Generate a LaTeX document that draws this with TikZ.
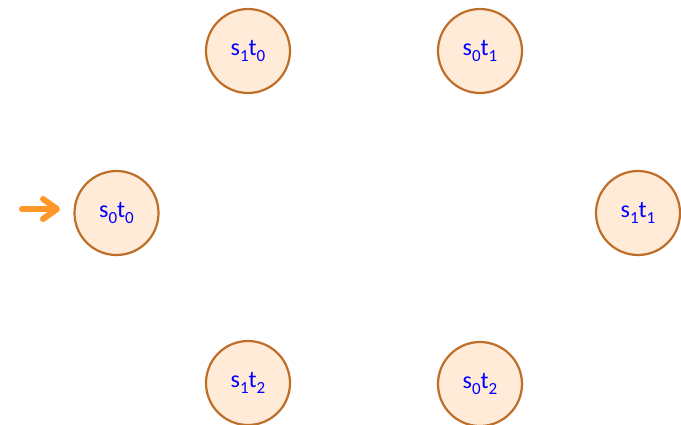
\documentclass[tikz,border=0pt]{standalone}
\usepackage{fontspec}
\setmainfont{Carlito}
\usetikzlibrary{arrows.meta}
\definecolor{stfill}{RGB}{255,235,216}
\definecolor{stdraw}{RGB}{190,110,40}
\definecolor{arrorange}{RGB}{255,150,40}
\newcommand\stsub[1]{\raisebox{-0.22em}{\fontsize{17}{17}\selectfont #1}}
\newcommand\stlabel[2]{s\stsub{#1}t\stsub{#2}}
\begin{document}
\begin{tikzpicture}[x=1pt,y=-1pt,
  state/.style={circle,draw=stdraw,fill=stfill,line width=2.2pt,minimum size=84pt,inner sep=0pt,
    text=blue,font=\fontsize{24}{24}\selectfont},
  initarrow/.style={draw=arrorange,line width=6pt,line cap=round,-{Straight Barb[length=14pt,width=20pt,line cap=round,line join=round]}}]
\useasboundingbox (0,0) rectangle (681,424);
\node[state] (s1t0) at (248,51) {\stlabel{1}{0}};
\node[state] (s0t1) at (480,51) {\stlabel{0}{1}};
\node[state] (s0t0) at (116.5,213) {\stlabel{0}{0}};
\node[state] (s1t1) at (638,213) {\stlabel{1}{1}};
\node[state] (s1t2) at (248,383) {\stlabel{1}{2}};
\node[state] (s0t2) at (480,384) {\stlabel{0}{2}};
\coordinate (start) at (22,209);
\coordinate (startend) at (60,209);
\draw[initarrow] (start) -- (startend);
\end{tikzpicture}
\end{document}
